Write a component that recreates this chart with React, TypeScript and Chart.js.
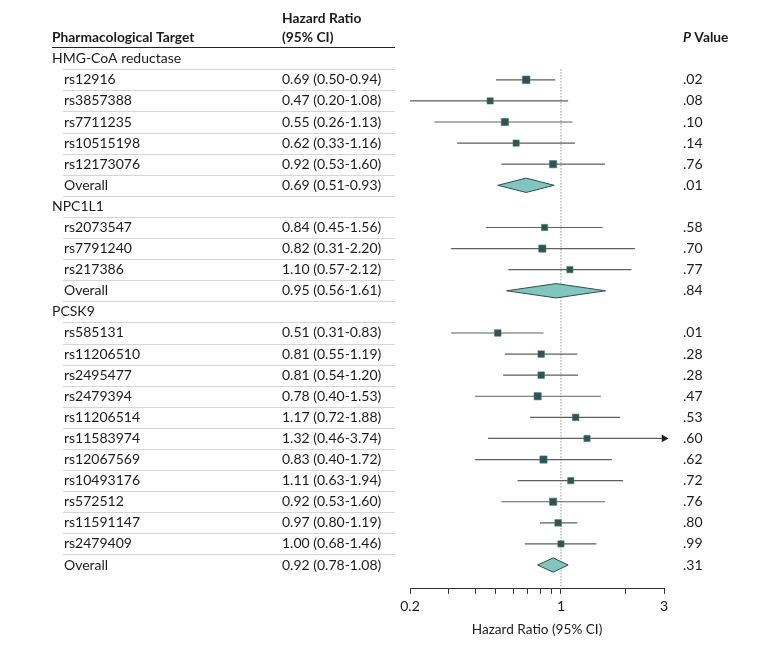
import React, { useEffect, useRef } from 'react';
import { Chart, registerables } from 'chart.js';

Chart.register(...registerables);

// ---------- data ----------
const rowLabels = [
  'HMG-CoA reductase', 'rs12916', 'rs3857388', 'rs7711235', 'rs10515198', 'rs12173076', 'Overall',
  'NPC1L1', 'rs2073547', 'rs7791240', 'rs217386', 'Overall',
  'PCSK9', 'rs585131', 'rs11206510', 'rs2495477', 'rs2479394', 'rs11206514', 'rs11583974',
  'rs12067569', 'rs10493176', 'rs572512', 'rs11591147', 'rs2479409', 'Overall',
];
const groupRows = [0, 7, 12];
const overallRows = [6, 11, 24];
const hazardRatios: (number | null)[] = [
  null, 0.69, 0.47, 0.55, 0.62, 0.92, 0.69,
  null, 0.84, 0.82, 1.10, 0.95,
  null, 0.51, 0.81, 0.81, 0.78, 1.17, 1.32, 0.83, 1.11, 0.92, 0.97, 1.00, 0.92,
];
const ciLower: (number | null)[] = [
  null, 0.50, 0.20, 0.26, 0.33, 0.53, 0.51,
  null, 0.45, 0.31, 0.57, 0.56,
  null, 0.31, 0.55, 0.54, 0.40, 0.72, 0.46, 0.40, 0.63, 0.53, 0.80, 0.68, 0.78,
];
const ciUpper: (number | null)[] = [
  null, 0.94, 1.08, 1.13, 1.16, 1.60, 0.93,
  null, 1.56, 2.20, 2.12, 1.61,
  null, 0.83, 1.19, 1.20, 1.53, 1.88, 3.74, 1.72, 1.94, 1.60, 1.19, 1.46, 1.08,
];
const pValues = [
  '', '.02', '.08', '.10', '.14', '.76', '.01',
  '', '.58', '.70', '.77', '.84',
  '', '.01', '.28', '.28', '.47', '.53', '.60', '.62', '.72', '.76', '.80', '.99', '.31',
];
// relative marker weights
const markerWeights: (number | null)[] = [
  null, 1.0, 0.82, 0.95, 0.82, 0.95, null,
  null, 0.82, 0.95, 0.82, null,
  null, 0.86, 0.86, 0.86, 0.95, 0.86, 0.82, 0.95, 0.82, 0.95, 0.86, 0.82, null,
];
const xTickValues = [0.2, 0.3, 0.4, 0.5, 0.6, 0.7, 0.8, 0.9, 1, 2, 3];
const xTickLabelValues = [0.2, 1, 3];
const xMin = 0.2;
const xMax = 3;

// ---------- layout constants ----------
const FONT = 'Lato';
const TEXT = '#1b1b1b';
const Y_MIN = -2.5;
const Y_MAX = 25.13;
const LABEL_X = 52;
const SUB_X = 64;
const HR_X = 282;
const P_X = 683;
const TABLE_RIGHT = 395;
const DIAMOND_HALF = 0.34;
const MAX_SQUARE = 7.6;

const fmt = (v: number) => v.toFixed(2);

const tablePlugin = {
  id: 'forestTable',
  afterDraw(chart: any) {
    const { ctx } = chart;
    const y = chart.scales.y;
    const py = (v: number) => y.getPixelForValue(v);
    ctx.save();
    ctx.textBaseline = 'middle';
    ctx.fillStyle = TEXT;

    // header
    ctx.font = `bold 13.8px ${FONT}`;
    ctx.textAlign = 'left';
    ctx.fillText('Hazard Ratio', HR_X, py(-1.89));
    ctx.fillText('(95% CI)', HR_X, py(-0.99));
    ctx.fillText('Pharmacological Target', LABEL_X, py(-0.99));
    ctx.font = `italic bold 13.8px ${FONT}`;
    ctx.fillText('P', P_X, py(-0.99));
    const pw = ctx.measureText('P').width;
    ctx.font = `bold 13.8px ${FONT}`;
    ctx.fillText(' Value', P_X + pw, py(-0.99));

    // header rule
    ctx.strokeStyle = '#222';
    ctx.lineWidth = 1.2;
    ctx.beginPath();
    ctx.moveTo(LABEL_X, Math.round(py(-0.57)) + 0.5);
    ctx.lineTo(TABLE_RIGHT, Math.round(py(-0.57)) + 0.5);
    ctx.stroke();

    // separators
    ctx.strokeStyle = '#d6d6d6';
    ctx.lineWidth = 1;
    for (let i = 0; i < rowLabels.length - 1; i++) {
      const yy = Math.round(py(i + 0.5)) + 0.5;
      ctx.beginPath();
      ctx.moveTo(SUB_X - 1, yy);
      ctx.lineTo(TABLE_RIGHT, yy);
      ctx.stroke();
    }

    // rows
    ctx.font = `14px ${FONT}`;
    ctx.fillStyle = TEXT;
    rowLabels.forEach((lab, i) => {
      const yy = py(i);
      const isGroup = groupRows.includes(i);
      ctx.fillText(lab, isGroup ? LABEL_X : SUB_X, yy);
      const hr = hazardRatios[i], lo = ciLower[i], hi = ciUpper[i];
      if (hr != null && lo != null && hi != null) {
        ctx.fillText(`${fmt(hr)} (${fmt(lo)}-${fmt(hi)})`, HR_X, yy);
      }
      if (pValues[i]) ctx.fillText(pValues[i], P_X, yy);
    });
    ctx.restore();
  },
};

export default function App() {
  const ref = useRef<HTMLCanvasElement | null>(null);

  useEffect(() => {
    if (!ref.current) return;
    Chart.defaults.font.family = FONT;

    const studyRows = hazardRatios
      .map((v, i) => i)
      .filter((i) => hazardRatios[i] != null && !overallRows.includes(i));

    const squares = studyRows.map((i) => ({ x: hazardRatios[i] as number, y: i }));
    const squareRadii = studyRows.map((i) => ((markerWeights[i] || 0.8) * MAX_SQUARE) / Math.SQRT2);

    const ciData: any[] = [];
    const arrows: any[] = [];
    studyRows.forEach((i) => {
      const lo = Math.max(ciLower[i] as number, xMin);
      const hiRaw = ciUpper[i] as number;
      const hi = Math.min(hiRaw, xMax);
      ciData.push({ x: lo, y: i }, { x: hi, y: i }, { x: null, y: null });
      if (hiRaw > xMax) arrows.push({ x: xMax, y: i });
    });

    const diamonds = overallRows.map((i) => ({
      type: 'scatter',
      showLine: true,
      fill: 'shape',
      backgroundColor: '#80c5c0',
      borderColor: '#2f4e4c',
      borderWidth: 1,
      pointRadius: 0,
      data: [
        { x: ciLower[i], y: i },
        { x: hazardRatios[i], y: i - DIAMOND_HALF },
        { x: ciUpper[i], y: i },
        { x: hazardRatios[i], y: i + DIAMOND_HALF },
        { x: ciLower[i], y: i },
      ],
    }));

    const chart = new Chart(ref.current, {
      type: 'scatter',
      data: {
        datasets: [
          {
            data: arrows,
            pointStyle: 'triangle',
            rotation: 90,
            pointRadius: 4.5,
            backgroundColor: '#222',
            borderColor: '#222',
            borderWidth: 0,
            clip: false,
          } as any,
          {
            data: squares,
            pointStyle: 'rect',
            pointRadius: squareRadii,
            backgroundColor: '#2b5654',
            borderColor: '#4a7572',
            borderWidth: 0.6,
          } as any,
          ...(diamonds as any[]),
          {
            data: ciData,
            showLine: true,
            spanGaps: false,
            pointRadius: 0,
            borderColor: '#5f5f5f',
            borderWidth: 1.2,
          } as any,
          {
            data: [{ x: 1, y: 0.5 }, { x: 1, y: Y_MAX }],
            showLine: true,
            pointRadius: 0,
            borderColor: '#7a7a7a',
            borderWidth: 1,
            borderDash: [1.2, 1.8],
          } as any,
        ],
      },
      options: {
        responsive: false,
        animation: false,
        devicePixelRatio: 1,
        layout: { padding: { left: 410, right: 116, top: 5, bottom: 7 } },
        plugins: { legend: { display: false }, tooltip: { enabled: false } },
        scales: {
          x: {
            type: 'logarithmic',
            min: xMin,
            max: xMax,
            afterBuildTicks: (s: any) => {
              s.ticks = xTickValues.map((v) => ({ value: v }));
            },
            ticks: {
              autoSkip: false,
              maxRotation: 0,
              padding: 4,
              color: TEXT,
              font: { family: FONT, size: 14 },
              callback: (v: any) => {
                const n = Number(v);
                return xTickLabelValues.some((t) => Math.abs(t - n) < 1e-9) ? String(n) : '';
              },
            },
            grid: { drawOnChartArea: false, drawTicks: true, tickLength: 5, color: '#333', lineWidth: 1 },
            border: { display: true, color: '#333', width: 1 },
            title: {
              display: true,
              text: 'Hazard Ratio (95% CI)',
              color: TEXT,
              font: { family: FONT, size: 13.6 },
              padding: { top: 3, bottom: 0 },
            },
          },
          y: { type: 'linear', reverse: true, min: Y_MIN, max: Y_MAX, display: false },
        },
      } as any,
      plugins: [tablePlugin],
    });
    return () => chart.destroy();
  }, []);

  return (
    <div style={{ position: 'absolute', left: 0, top: 0 }}>
      <canvas ref={ref} width={780} height={645} />
    </div>
  );
}
